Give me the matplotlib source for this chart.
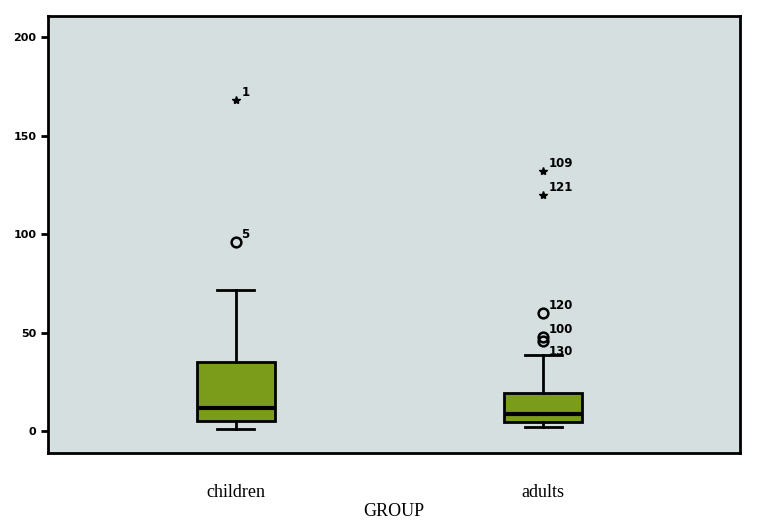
import matplotlib; matplotlib.use('agg')
import matplotlib.pyplot as plt

groups = ['children', 'adults']
whislo = [1, 2]
q1 = [5.5, 5]
med = [12, 9]
q3 = [35, 19.5]
whishi = [72, 39]

# outliers: (group index, value, label, marker)
out_group = [0, 0, 1, 1, 1, 1, 1]
out_value = [168, 96, 132, 120, 60, 48, 46]
out_label = ['1', '5', '109', '121', '120', '100', '']
out_marker = ['*', 'o', '*', '*', 'o', 'o', 'o']
# label with no visible marker (sits on the whisker cap)
extra_label = ('130', 1, 39)


def main():
    fig = plt.figure(figsize=(7.63, 5.25), dpi=100)
    ax = fig.add_axes([0.063, 0.137, 0.907, 0.833])
    ax.set_facecolor('#d5dfdf')

    stats = []
    for i in range(len(groups)):
        stats.append({'whislo': whislo[i], 'q1': q1[i], 'med': med[i],
                      'q3': q3[i], 'whishi': whishi[i], 'fliers': []})
    ax.bxp(stats, positions=[1, 2], widths=0.253, patch_artist=True,
           showfliers=False,
           boxprops=dict(facecolor='#7b9b1b', edgecolor='black', linewidth=2),
           medianprops=dict(color='black', linewidth=3),
           whiskerprops=dict(color='black', linewidth=2),
           capprops=dict(color='black', linewidth=2),
           capwidths=0.12)

    for g, v, lab, m in zip(out_group, out_value, out_label, out_marker):
        x = g + 1
        if m == 'o':
            ax.plot(x, v, marker='o', mfc='none', mec='black', ms=7, mew=1.8)
        else:
            ax.plot(x, v, marker='*', color='black', ms=6)
        if lab:
            ax.annotate(lab, (x, v), xytext=(4, 3), textcoords='offset points',
                        fontsize=8.5, fontweight='semibold')
    lab, g, v = extra_label
    ax.annotate(lab, (g + 1, v), xytext=(4, 0), textcoords='offset points',
                fontsize=8.5, fontweight='semibold')

    ax.set_xlim(0.39, 2.64)
    ax.set_ylim(-11, 211)
    ax.set_yticks([0, 50, 100, 150, 200])
    ax.tick_params(axis='y', length=5, width=2, labelsize=8)
    for t in ax.get_yticklabels():
        t.set_fontweight('bold')
    ax.set_xticks([1, 2])
    ax.set_xticklabels(groups, family='Liberation Serif', fontsize=13)
    ax.tick_params(axis='x', length=0, pad=22)
    ax.set_xlabel('GROUP', family='Liberation Serif', fontsize=13, labelpad=2)
    for s in ax.spines.values():
        s.set_linewidth(2)

    fig.savefig('out.png')


if __name__ == '__main__':
    main()
